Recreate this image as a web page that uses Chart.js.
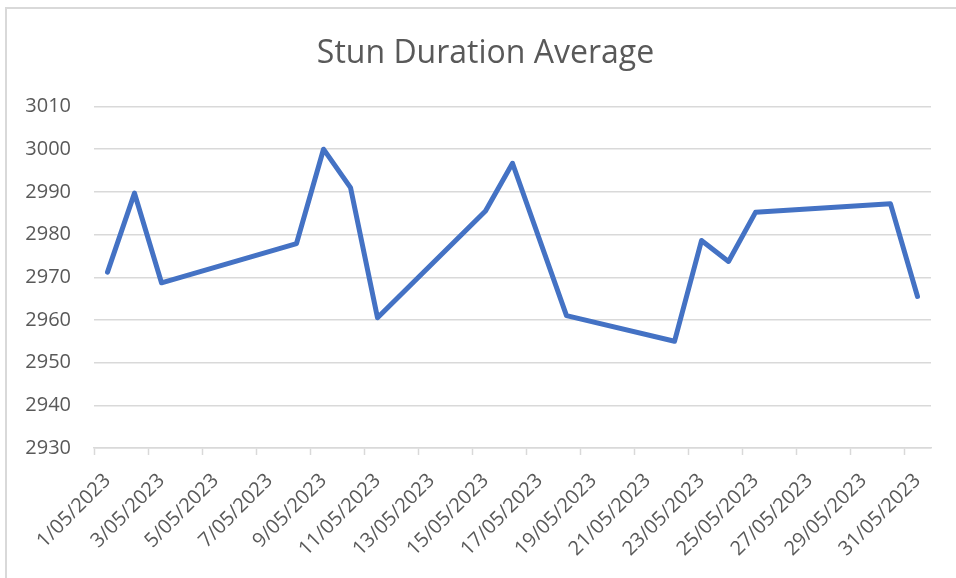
<!DOCTYPE html>
<html>
<head>
<meta charset="utf-8">
<script src="https://cdn.jsdelivr.net/npm/chart.js@4"></script>
<style>
  body { margin: 0; background: #fff; }
  #marco { position: absolute; left: 5px; top: 7px; width: 1000px; height: 600px; border: 2px solid #d9d9d9; }
  #GraficoStun { position: absolute; left: 0; top: 0; }
</style>
</head>
<body>
<div id="marco"></div>
<canvas id="GraficoStun" width="956" height="578"></canvas>
<script>
// fechas del mes (eje x)
var fechas = [];
for (var d = 1; d <= 31; d++) { fechas.push(d + "/05/2023"); }
// promedio de duración (null = día sin dato)
var promedio = [
	2971.2, 2989.7, 2968.7, null, null, null, null, 2977.9, 3000.0, 2991.0,
	2960.5, null, null, null, 2985.5, 2996.7, null, 2961.0, null, null,
	null, 2955.0, 2978.6, 2973.7, 2985.2, null, null, null, null, 2987.2,
	2965.5
];
// eje y
var yMin = 2930;
var yMax = 3010;
var yPaso = 10;

var titulo = 'Stun Duration Average';
var gris = '#595959';
var lineaGris = '#d9d9d9';

// título dibujado a mano (el original no está centrado en el área del plugin)
var pluginTitulo = {
	id: 'tituloExcel',
	afterDraw: function(chart) {
		var ctx = chart.ctx;
		ctx.save();
		ctx.font = 'normal 32px "Open Sans"';
		ctx.fillStyle = gris;
		ctx.textAlign = 'center';
		ctx.textBaseline = 'alphabetic';
		ctx.fillText(titulo, 485.5, 63);
		ctx.restore();
	}
};

myChartStun = new Chart('GraficoStun', {
	type: 'line',
	data: {
		labels: fechas,
		datasets: [{
			label: titulo,
			data: promedio,
			borderColor: '#4472c4',
			borderWidth: 5,
			borderCapStyle: 'round',
			borderJoinStyle: 'round',
			pointRadius: 0,
			tension: 0,
			spanGaps: true
		}]
	},
	plugins: [pluginTitulo],
	options: {
		responsive: false,
		animation: false,
		layout: { padding: { left: 0, right: 25, top: 106.5, bottom: 0 } },
		plugins: {
			legend: { display: false },
			tooltip: { enabled: false },
			title: { display: false }
		},
		scales: {
			x: {
				type: 'category',
				offset: true,
				border: { color: lineaGris, width: 1.5 },
				grid: {
					offset: true,
					drawOnChartArea: false,
					tickLength: 7,
					tickWidth: 1.5,
					tickColor: function(ctx) {
						return (ctx.index % 2 == 0) ? lineaGris : 'rgba(0,0,0,0)';
					}
				},
				ticks: {
					autoSkip: false,
					minRotation: 45,
					maxRotation: 45,
					padding: 14,
					color: gris,
					font: { family: 'Open Sans', size: 20 },
					callback: function(val, i) {
						return (i % 2 == 0) ? this.getLabelForValue(val) : '';
					}
				},
				afterFit: function(scale) { scale.height = 130; }
			},
			y: {
				min: yMin,
				max: yMax,
				border: { display: false },
				grid: { color: lineaGris, lineWidth: 1.5, drawTicks: false },
				ticks: {
					stepSize: yPaso,
					padding: 23,
					color: gris,
					font: { family: 'Open Sans', size: 20 },
					callback: function(val) { return String(val); }
				},
				afterFit: function(scale) { scale.width = 94; }
			}
		}
	}
});
</script>
</body>
</html>
